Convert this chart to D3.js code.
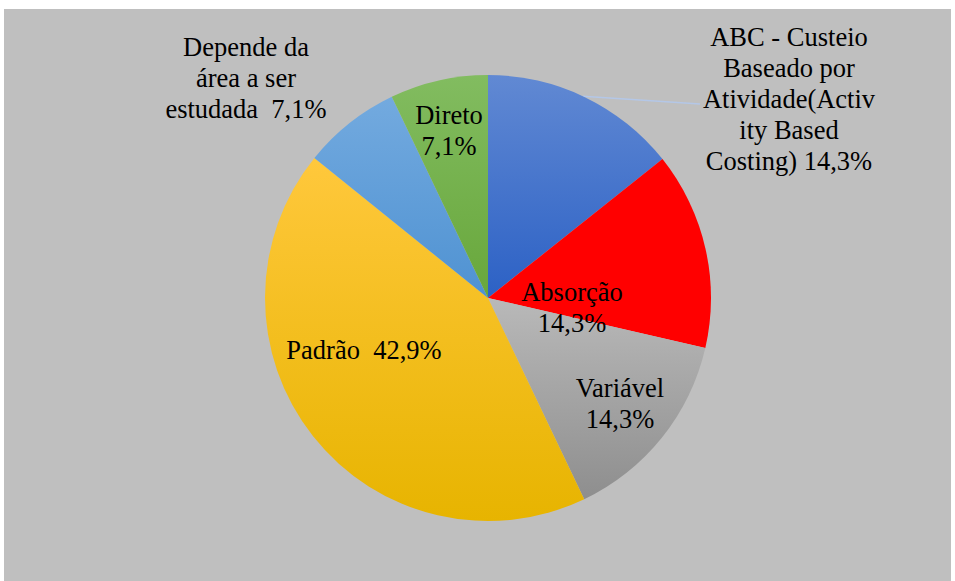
<!DOCTYPE html>
<html><head><meta charset="utf-8">
<script src="https://cdn.jsdelivr.net/npm/d3@7"></script>
<style>body{margin:0;background:#fff;}svg{display:block;}</style>
</head><body>
<svg id="c" width="955" height="581"></svg>
<script>
const categories = ["ABC - Custeio Baseado por Atividade(Activity Based Costing)", "Absorção", "Variável", "Padrão", "Depende da área a ser estudada", "Direto"];
const values = [14.3, 14.3, 14.3, 42.9, 7.1, 7.1];
const labelLines = [
  ["ABC - Custeio", "Baseado por", "Atividade(Activ", "ity Based", "Costing) 14,3%"],
  ["Absorção", "14,3%"],
  ["Variável", "14,3%"],
  ["Padrão\u00a0 42,9%"],
  ["Depende da", "área a ser", "estudada\u00a0 7,1%"],
  ["Direto", "7,1%"]
];
const gradTop = ["#6189d3", "#ff0000", "#b9b9b9", "#ffc83c", "#73aadf", "#82bc60"];
const gradBot = ["#2c61c5", "#ff0000", "#8e8e8e", "#e7b400", "#4f92d2", "#68a73b"];

const svg = d3.select("#c");
svg.append("rect").attr("x", 4).attr("y", 9).attr("width", 947).attr("height", 572).attr("fill", "#bfbfbf");

const defs = svg.append("defs");
categories.forEach((c, i) => {
  const g = defs.append("linearGradient").attr("id", "g" + i)
    .attr("x1", 0).attr("y1", 0).attr("x2", 0).attr("y2", 1);
  g.append("stop").attr("offset", "0%").attr("stop-color", gradTop[i]);
  g.append("stop").attr("offset", "100%").attr("stop-color", gradBot[i]);
});

const cx = 488, cy = 298, r = 223;
const pie = d3.pie().sort(null).value(d => d);
const arcs = pie(values);
const arc = d3.arc().innerRadius(0).outerRadius(r);
const g = svg.append("g").attr("transform", `translate(${cx},${cy})`);

// leader line for ABC label
const lineStart = d3.arc().innerRadius(r).outerRadius(r).centroid({startAngle: 0.44, endAngle: 0.44});
g.append("line").attr("x1", lineStart[0]).attr("y1", lineStart[1])
  .attr("x2", 700 - cx).attr("y2", 104 - cy)
  .attr("stroke", "#b4c7e7").attr("stroke-width", 1.3);

g.selectAll("path.s").data(arcs).enter().append("path")
  .attr("class", "s").attr("d", arc).attr("fill", (d, i) => `url(#g${i})`);

const labelPos = [[789, 99], [572, 307], [620, 403], [364, 350], [246, 78], [449, 130]];
const lh = 31;
labelLines.forEach((lines, i) => {
  const [x, y] = labelPos[i];
  const t = svg.append("text").attr("x", x)
    .style("font-family", '"Liberation Serif"')
    .style("font-size", "26.5px").style("fill", "#000").attr("text-anchor", "middle");
  lines.forEach((ln, k) => {
    t.append("tspan").attr("x", x)
      .attr("y", y + (k - (lines.length - 1) / 2) * lh)
      .attr("dy", "0.35em").text(ln);
  });
});
</script>
</body></html>
